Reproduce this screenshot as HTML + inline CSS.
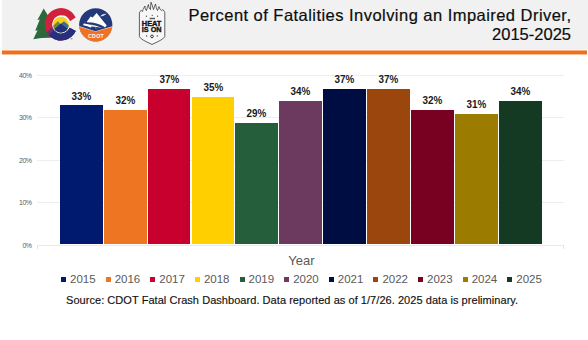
<!DOCTYPE html>
<html><head><meta charset="utf-8"><style>
html,body{margin:0;padding:0;background:#fff;}
body{width:588px;height:340px;position:relative;overflow:hidden;font-family:"Liberation Sans",sans-serif;}
.hdr{position:absolute;left:2px;top:0;width:586px;height:49px;background:#f1f1f1;}
.hdr2{position:absolute;left:2px;top:49px;width:586px;height:1px;background:#f4f4f4;}
.orange{position:absolute;left:2px;top:50px;width:585px;height:5px;background:linear-gradient(to bottom,rgba(239,112,26,0.55) 0px,rgba(239,112,26,0.55) 1px,#ef701a 1px,#ef701a 4px,rgba(239,112,26,0.45) 4px,rgba(239,112,26,0.45) 5px);}
.title{position:absolute;right:17px;top:5.5px;text-align:right;font-size:16.5px;line-height:19px;color:#0d0d0d;-webkit-text-stroke:0.2px #0d0d0d;white-space:nowrap;}
.t1{letter-spacing:0.46px;margin-right:-0.46px}
.bar{position:absolute;}
.logos{position:absolute;left:0;top:0;}
.lab{position:absolute;text-align:center;font-weight:bold;font-size:11px;line-height:13px;color:#1a1a1a;transform:scaleX(0.9);}
.grid{position:absolute;left:37px;width:527px;height:1px;background:#eeeeee;}
.axis{position:absolute;left:37px;top:244.5px;width:527px;height:1px;background:#eaeaea;}
.tick{position:absolute;top:245px;width:1px;height:4px;background:#e3e3e3;}
.ylab{position:absolute;left:0;width:31.5px;text-align:right;font-size:7px;letter-spacing:-0.5px;line-height:9px;color:#5a5a5a;}
.xt{position:absolute;left:288.3px;top:253px;font-size:13px;line-height:15px;color:#595959;}
.lm{position:absolute;top:277px;width:5px;height:5px;}
.lt{position:absolute;top:272.5px;font-size:11.5px;line-height:13px;color:#595959;}
.src{position:absolute;left:66px;top:294px;letter-spacing:0.05px;font-size:11px;line-height:13px;color:#111111;-webkit-text-stroke:0.15px #111;white-space:nowrap;}
</style></head><body>
<div class="hdr"></div><div class="hdr2"></div>
<svg class="logos" width="588" height="50" viewBox="0 0 588 50">
<defs>
<clipPath id="cann"><path d="M75.7,17.6 A16.2,16.2 0 1 0 75.7,31 L69.6,27.7 A8.9,8.9 0 1 1 69.9,21.2 Z"/></clipPath>
<clipPath id="inner"><circle cx="60.9" cy="24.7" r="7.9"/></clipPath>
<clipPath id="cd"><circle cx="95.75" cy="24.85" r="16.6"/></clipPath>
</defs>
<!-- tree -->
<path d="M43.7,8.6 L52,22 L52,37.8 Q42,37.6 33.3,39.2 L37.6,30.2 L35.2,30.8 L39.8,19.4 L37.4,19.9 Z" fill="#2b693c"/>
<!-- C -->
<g clip-path="url(#cann)">
<rect x="40" y="5" width="40" height="40" fill="#d0213d"/>
</g>
<g clip-path="url(#cann)">
<polygon points="35,44 54.3,24.7 80,24.7 80,50 35,50" fill="#6a2f6e"/>
<polygon points="40,44 59.3,24.7 80,24.7 80,50 40,50" fill="#27307f"/>
</g>
<!-- inner sun/mountains -->
<circle cx="60.9" cy="24.7" r="8.7" fill="#ffffff"/>
<g clip-path="url(#inner)">
<rect x="50" y="14" width="22" height="22" fill="#f6d21c"/>
<polygon points="50,29 57.8,21.3 62,25.5 62,36 50,36" fill="#6a8c3a"/>
<polygon points="59.5,25 63.9,21.3 72,28 72,36 59.5,36" fill="#3b6e8e"/>
<polygon points="50,33 60.7,23.6 72,32 72,36 50,36" fill="#26307c"/>
</g>
<!-- TM -->
<rect x="70.5" y="38.3" width="2" height="1" fill="#888"/>
<!-- CDOT -->
<g clip-path="url(#cd)">
<rect x="78" y="7" width="36" height="36" fill="#24397a"/>
<polygon points="86.7,21.9 90.6,16.5 92.7,17.4 96.6,13 106.8,25.4 104.5,28 88,26" fill="#ffffff"/>
<path d="M84.8,23.4 Q96,22.8 104.5,28.2" stroke="#24397a" stroke-width="2.1" fill="none"/>
<path d="M84.2,24.5 Q87.8,24.9 90.4,26.4" stroke="#ffffff" stroke-width="2" fill="none" stroke-linecap="round"/>
<path d="M91.2,25.4 Q95.8,26.2 96.2,29.2" stroke="#b8c2de" stroke-width="0.7" fill="none" stroke-dasharray="1.1 0.6"/>
<polygon points="78,25.8 95.4,31.2 114,25.8 114,44 78,44" fill="#f2d6c6"/>
<polygon points="78,26.4 95.4,31.8 114,26.4 114,44 78,44" fill="#ef7223"/>
</g>
<path d="M100.6,16.2 L102.6,14.6 L106,14 L103.6,15.5 Z" fill="#ffffff" stroke="#ffffff" stroke-width="0.3"/>
<text x="96" y="37.7" text-anchor="middle" font-family="Liberation Sans" font-weight="bold" font-size="5.2" fill="#ffffff" letter-spacing="0.3">CDOT</text>
<!-- Heat is on badge -->
<path d="M139.4,12.6 L139.4,36.6 Q140.5,39.5 152,44.4 Q163.5,39.5 164.8,36.6 L164.8,12.6 C164.5,11.5 163.5,10.5 163,9.6 C162.5,9.5 162,10 161.5,10.6 C160.5,10 159.5,8.5 159,6.6 C158.5,8 158,9.5 157.5,10.6 C156.5,9 156,6.5 155.5,4 C155,5.5 154,7.5 153.5,9.6 C153,7.5 152,4.5 151,2.2 C150.8,4.5 150.5,7 150.5,9.6 C149.5,9 148.5,7 148.5,4.5 C147.5,6.5 147,8.5 146.5,10.6 C145.5,10 144.8,8 145,6 C144,7.5 143,9 142.5,11.5 C141.5,10 140,10.5 139.6,12.6 Z" fill="#f7f7f7" stroke="#3a3a3a" stroke-width="0.8" stroke-linejoin="round"/>
<circle cx="146.4" cy="16.2" r="0.6" fill="#333"/>
<circle cx="157.5" cy="16.2" r="0.6" fill="#333"/>
<circle cx="152.2" cy="15.3" r="0.6" fill="#333"/>
<rect x="149.6" y="17.8" width="5.4" height="1.4" fill="#555"/>
<text x="141.8" y="25.8" textLength="19.6" lengthAdjust="spacingAndGlyphs" font-family="Liberation Sans" font-weight="bold" font-size="6.3" fill="#111" stroke="#111" stroke-width="0.35">HEAT</text>
<text x="141.8" y="32.3" textLength="19.8" lengthAdjust="spacingAndGlyphs" font-family="Liberation Sans" font-weight="bold" font-size="6.9" fill="#111" stroke="#111" stroke-width="0.35">IS ON</text>
<circle cx="146.6" cy="35.9" r="0.65" fill="#222"/>
<circle cx="157.3" cy="35.9" r="0.65" fill="#222"/>
<circle cx="152" cy="36.4" r="1.35" fill="none" stroke="#222" stroke-width="0.9"/>
</svg>

<div class="orange"></div>
<div class="title"><span class="t1">Percent of Fatalities Involving an Impaired Driver,</span><br>2015-2025</div>
<div class="grid" style="top:74.50px"></div><div class="ylab" style="top:70.50px">40%</div><div class="grid" style="top:117.00px"></div><div class="ylab" style="top:113.00px">30%</div><div class="grid" style="top:159.50px"></div><div class="ylab" style="top:155.50px">20%</div><div class="grid" style="top:202.00px"></div><div class="ylab" style="top:198.00px">10%</div><div class="ylab" style="top:240.50px">0%</div>
<div class="axis"></div><div class="tick" style="left:37px"></div><div class="tick" style="left:563px"></div>
<div class="bar" style="left:59.80px;top:105.30px;width:42.90px;height:138.70px;background:#001a70"></div><div class="lab" style="left:49.80px;top:90.30px;width:62.90px">33%</div><div class="bar" style="left:103.70px;top:109.90px;width:42.90px;height:134.10px;background:#ee7623"></div><div class="lab" style="left:93.70px;top:93.90px;width:62.90px">32%</div><div class="bar" style="left:147.60px;top:88.50px;width:42.90px;height:155.50px;background:#c8002e"></div><div class="lab" style="left:137.60px;top:72.50px;width:62.90px">37%</div><div class="bar" style="left:191.50px;top:96.50px;width:42.90px;height:147.50px;background:#ffcf00"></div><div class="lab" style="left:181.50px;top:80.50px;width:62.90px">35%</div><div class="bar" style="left:235.40px;top:122.90px;width:42.90px;height:121.10px;background:#255e3b"></div><div class="lab" style="left:225.40px;top:106.90px;width:62.90px">29%</div><div class="bar" style="left:279.30px;top:101.10px;width:42.90px;height:142.90px;background:#6c3a5e"></div><div class="lab" style="left:269.30px;top:85.10px;width:62.90px">34%</div><div class="bar" style="left:323.20px;top:88.70px;width:42.90px;height:155.30px;background:#000d42"></div><div class="lab" style="left:313.20px;top:72.70px;width:62.90px">37%</div><div class="bar" style="left:367.10px;top:88.70px;width:42.90px;height:155.30px;background:#9a460c"></div><div class="lab" style="left:357.10px;top:72.70px;width:62.90px">37%</div><div class="bar" style="left:411.00px;top:110.20px;width:42.90px;height:133.80px;background:#780021"></div><div class="lab" style="left:401.00px;top:94.20px;width:62.90px">32%</div><div class="bar" style="left:454.90px;top:113.90px;width:42.90px;height:130.10px;background:#9b7c00"></div><div class="lab" style="left:444.90px;top:97.90px;width:62.90px">31%</div><div class="bar" style="left:498.80px;top:101.20px;width:42.90px;height:142.80px;background:#143a24"></div><div class="lab" style="left:488.80px;top:85.20px;width:62.90px">34%</div>
<div class="xt">Year</div>
<div class="lm" style="left:61.00px;background:#001a70"></div><div class="lt" style="left:70.00px">2015</div><div class="lm" style="left:105.63px;background:#ee7623"></div><div class="lt" style="left:114.63px">2016</div><div class="lm" style="left:150.26px;background:#c8002e"></div><div class="lt" style="left:159.26px">2017</div><div class="lm" style="left:194.89px;background:#ffcf00"></div><div class="lt" style="left:203.89px">2018</div><div class="lm" style="left:239.52px;background:#255e3b"></div><div class="lt" style="left:248.52px">2019</div><div class="lm" style="left:284.15px;background:#6c3a5e"></div><div class="lt" style="left:293.15px">2020</div><div class="lm" style="left:328.78px;background:#000d42"></div><div class="lt" style="left:337.78px">2021</div><div class="lm" style="left:373.41px;background:#9a460c"></div><div class="lt" style="left:382.41px">2022</div><div class="lm" style="left:418.04px;background:#780021"></div><div class="lt" style="left:427.04px">2023</div><div class="lm" style="left:462.67px;background:#9b7c00"></div><div class="lt" style="left:471.67px">2024</div><div class="lm" style="left:507.30px;background:#143a24"></div><div class="lt" style="left:516.30px">2025</div>
<div class="src">Source: CDOT Fatal Crash Dashboard. Data reported as of 1/7/26. 2025 data is preliminary.</div>
</body></html>
